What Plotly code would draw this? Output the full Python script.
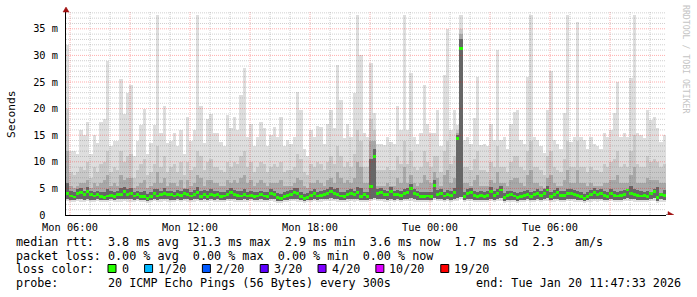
import numpy as np
import pandas as pd
import plotly.graph_objects as go

# ---------------- data (ms) ----------------
START = "2026-01-19 05:48:00"
END = "2026-01-20 11:48:00"
STEP_MIN = 10

max_rtt = [
    32, 12, 12, 11.5, 16, 15, 17.5, 11.5, 15, 13.5,
    17.5, 18, 29, 13, 14, 14, 25.5, 19, 23, 24.5,
    11, 14, 17, 20, 11.5, 13.5, 17, 37.6, 15.5, 20.5,
    13.5, 14, 15.5, 13, 16, 11.5, 18.5, 14, 16, 37.6,
    20.5, 13.5, 18, 19, 15.5, 15.4, 13.8, 13, 18.8, 16.3,
    18.5, 16, 22.5, 27.6, 14.7, 17.2, 13, 14.7, 17.5, 16.3,
    13, 15, 16.5, 14.7, 18.5, 13, 14.1, 13.4, 14.7, 23.2,
    19.7, 12.4, 11, 16, 14.7, 16.8, 16.5, 13.4, 17.2, 19.7,
    16.3, 28.2, 21.6, 14.4, 17.2, 14.7, 22.9, 37.6, 30, 15.4,
    14.7, 28.5, 19.1, 13.4, 13.4, 13.2, 14.7, 13.8, 13.4, 20.4,
    16, 37.6, 16, 26.7, 14.7, 13.4, 15.4, 24.4, 17.2, 15.4,
    15.4, 19.7, 13, 26.4, 35, 16, 19.7, 17, 37.6, 14.1,
    14.7, 13.4, 18.2, 26, 13.2, 13.4, 13, 17.2, 14.1, 31,
    14.1, 14.7, 12.4, 17.2, 19.4, 19.7, 14.1, 13.4, 26, 37.6,
    14.7, 14.1, 13, 11.6, 19.7, 27.1, 14.1, 13.4, 12.4, 19.1,
    37.6, 13.8, 14.7, 36.3, 14.7, 14.1, 12.4, 14.7, 13.4, 13,
    12.4, 15.4, 14.7, 16, 19.1, 25, 14.7, 15.4, 14.7, 25.7,
    37.6, 15.4, 15, 14.4, 19.7, 17.8, 18.5, 16.3, 13.8, 15,
]

q90_rtt = [
    20, 8, 7.5, 8, 9, 8.5, 10, 7, 9, 8,
    9.5, 10, 12, 8, 9, 8.5, 12, 10, 11, 11.5,
    7, 8.5, 9.5, 10.5, 7.5, 8, 9.5, 13, 9, 11,
    8, 9, 9.5, 8, 10, 7.5, 10, 8.5, 9, 12,
    11, 8.5, 10, 10.5, 9, 9, 8.5, 8, 10, 9,
    10, 9.5, 11, 12, 9, 10, 8, 9, 10, 9.5,
    8, 9, 9.5, 9, 10, 8, 8.5, 8.5, 9, 11.5,
    10.5, 8, 7.5, 9.5, 9, 10, 9.5, 8.5, 10, 11,
    9.5, 13, 11, 9, 10, 9, 11.5, 16, 14, 9,
    9, 18, 16, 8.5, 8.5, 8.5, 9, 8.5, 8.5, 11,
    9.5, 14, 9.5, 12, 9, 8.5, 9, 12, 10, 9,
    11, 11, 8, 12, 14, 9.5, 11, 16, 35, 9,
    9, 8.5, 10.5, 12, 8.5, 8.5, 8, 10, 9, 13,
    9, 9, 8, 10, 11, 11, 9, 8.5, 12, 14,
    9, 9, 8.5, 7.5, 11, 12, 9, 8.5, 8, 10.5,
    14, 9, 9, 14, 9, 9, 8, 9, 8.5, 8.5,
    8, 9.5, 9, 10, 10.5, 12, 9, 9.5, 9, 12,
    15, 9.5, 9, 9, 11, 10, 10.5, 10, 9, 9.5,
]

q75_rtt = [
    12, 5.5, 5, 5.5, 6, 6, 6.5, 5, 6, 5.5,
    6, 6.5, 7.5, 5.5, 6, 5.5, 7.5, 6.5, 7, 7,
    5, 5.5, 6, 6.5, 5, 5.5, 6, 8, 6, 7,
    5.5, 6, 6, 5.5, 6.5, 5, 6.5, 5.5, 6, 7.5,
    7, 5.5, 6.5, 6.5, 6, 6, 5.5, 5.5, 6.5, 6,
    6.5, 6, 7, 7.5, 6, 6.5, 5.5, 6, 6.5, 6,
    5.5, 6, 6, 6, 6.5, 5.5, 5.5, 5.5, 6, 7,
    6.5, 5.5, 5, 6, 6, 6.5, 6, 5.5, 6.5, 7,
    6, 8, 7, 6, 6.5, 6, 7, 10, 9, 6,
    6, 14, 14, 5.5, 5.5, 5.5, 6, 5.5, 5.5, 7,
    6, 9, 6, 7.5, 6, 5.5, 6, 7.5, 6.5, 6,
    8, 7, 5.5, 7.5, 8.5, 6, 7, 15.5, 34, 6,
    6, 5.5, 6.5, 7.5, 5.5, 5.5, 5.5, 6.5, 6, 8,
    6, 6, 5.5, 6.5, 7, 7, 6, 5.5, 7.5, 8.5,
    6, 6, 5.5, 5, 7, 7.5, 6, 5.5, 5.5, 6.5,
    8.5, 6, 6, 8.5, 6, 6, 5.5, 6, 5.5, 5.5,
    5.5, 6, 6, 6.5, 6.5, 7.5, 6, 6, 6, 7.5,
    9, 6, 6, 6, 7, 6.5, 6.5, 6.5, 6, 6,
]

q60_rtt = [
    6, 4.6, 4.3, 4.8, 5, 4.6, 5.2, 4.5, 4.4, 4.6,
    4.4, 4.3, 4.8, 4.5, 4.4, 4.6, 5, 5.2, 4.8, 5,
    4.3, 4.6, 4.4, 4.5, 4, 4.3, 4.9, 4.8, 4.6, 5,
    4.6, 4.6, 4.4, 4.7, 4.5, 4.9, 4.8, 4.4, 4.7, 5.2,
    4.6, 4.7, 4.5, 4.8, 4.5, 4.6, 4.3, 4.4, 4.7, 5,
    4.7, 4.5, 4.5, 4.8, 4.4, 4.5, 4.3, 4.4, 4.6, 4.4,
    4.3, 4.9, 4.6, 4.1, 4, 4.3, 4.5, 4.7, 5, 5,
    4.4, 4, 4.1, 4.5, 4.8, 4.4, 4.5, 4.7, 4.9, 5.2,
    4.9, 5, 4.4, 4.3, 4.7, 4.9, 4.6, 5.2, 5, 4.4,
    4.3, 10.5, 12.5, 4.9, 5, 4.7, 4.6, 5.2, 4.6, 4.7,
    4.5, 4.9, 5, 5.8, 4.8, 4.6, 4.3, 4.4, 4.4, 4.3,
    6.5, 4.7, 4.8, 4.4, 4.7, 4.5, 5, 15, 33, 4.3,
    4.8, 5, 4.5, 4.3, 4.5, 4.3, 4.5, 5.2, 4.5, 4.8,
    5.5, 4.1, 4.5, 4.6, 4.4, 4.1, 4.3, 4.5, 4.7, 4.3,
    4.6, 4.8, 4.5, 4.8, 5.5, 4.3, 4.7, 5, 4.5, 4.5,
    4.8, 4.9, 4.7, 4.5, 4.3, 3.9, 4.3, 4.7, 5, 4.7,
    4.9, 4.5, 4.3, 4.9, 4.5, 4.4, 4.5, 4.7, 4.9, 5.5,
    4.8, 4.7, 4.5, 4.4, 4.5, 4.3, 4.9, 5.2, 4.1, 4.7,
]

median_rtt = [
    4.1, 3.6, 3.4, 4.1, 4.2, 3.8, 4.4, 3.8, 3.6, 3.8,
    3.5, 3.3, 3.6, 3.7, 3.5, 3.8, 3.9, 4.4, 3.9, 4.0,
    3.6, 3.8, 3.5, 3.5, 3.1, 3.5, 4.0, 3.6, 3.8, 4.1,
    3.9, 3.8, 3.6, 3.9, 3.7, 4.1, 3.8, 3.6, 3.9, 4.2,
    3.5, 3.9, 3.5, 3.9, 3.7, 3.8, 3.5, 3.6, 3.9, 4.2,
    3.9, 3.7, 3.6, 3.8, 3.6, 3.7, 3.5, 3.6, 3.8, 3.6,
    3.5, 4.1, 3.8, 3.3, 3.1, 3.5, 3.7, 3.9, 4.2, 4.0,
    3.5, 3.1, 3.3, 3.7, 4.0, 3.6, 3.7, 3.9, 4.1, 4.4,
    4.1, 3.9, 3.6, 3.5, 3.9, 4.1, 3.8, 4.2, 3.5, 3.8,
    3.5, 5.3, 11.0, 4.1, 4.2, 3.9, 3.8, 4.4, 3.8, 3.9,
    3.7, 4.0, 4.2, 5.0, 4.0, 3.8, 3.5, 3.5, 3.6, 3.5,
    5.6, 3.9, 4.0, 3.6, 3.9, 3.7, 4.2, 14.4, 31.3, 3.5,
    4.0, 4.2, 3.7, 3.5, 3.7, 3.5, 3.7, 4.4, 3.7, 4.0,
    4.7, 3.3, 3.7, 3.8, 3.6, 3.3, 3.5, 3.7, 3.9, 3.5,
    3.8, 4.0, 3.7, 4.0, 4.7, 3.5, 3.9, 4.2, 3.7, 3.7,
    4.0, 4.1, 3.9, 3.7, 3.5, 3.1, 3.5, 3.9, 4.2, 3.9,
    4.1, 3.7, 3.5, 4.1, 3.7, 3.6, 3.7, 3.9, 4.7, 4.0,
    3.9, 3.7, 3.6, 3.7, 3.5, 4.1, 4.4, 3.3, 3.9, 3.7,
]

low_rtt = [
    3.0, 2.9, 2.8, 3.0, 3.0, 2.9, 3.1, 2.9, 2.9, 3.0,
    2.9, 2.8, 2.9, 3.0, 2.9, 3.0, 3.0, 3.1, 3.0, 3.0,
    2.9, 3.0, 2.8, 2.9, 2.7, 2.9, 3.0, 2.9, 3.0, 3.1,
    3.0, 2.9, 2.9, 3.0, 2.9, 3.1, 3.0, 2.8, 3.0, 3.1,
    2.8, 3.0, 2.9, 3.0, 2.9, 3.0, 2.8, 2.9, 3.0, 3.1,
    3.0, 2.9, 2.9, 3.0, 2.9, 3.0, 2.8, 2.9, 3.0, 2.9,
    2.8, 3.1, 3.0, 2.7, 2.7, 2.8, 2.9, 3.0, 3.1, 3.0,
    2.8, 2.7, 2.8, 2.9, 3.0, 2.9, 3.0, 3.0, 3.1, 3.2,
    3.1, 3.0, 2.9, 2.8, 3.0, 3.1, 3.0, 3.1, 2.8, 2.9,
    2.9, 3.0, 3.2, 3.0, 3.1, 3.0, 2.9, 3.1, 2.9, 3.0,
    2.9, 3.0, 3.1, 3.2, 3.0, 2.9, 2.8, 2.8, 2.9, 2.8,
    3.2, 3.0, 3.0, 2.9, 3.0, 2.9, 3.1, 3.2, 3.4, 2.8,
    3.0, 3.1, 2.9, 2.8, 2.9, 2.8, 2.9, 3.1, 2.9, 3.0,
    3.2, 2.7, 2.9, 2.9, 2.8, 2.7, 2.8, 2.9, 3.0, 2.8,
    2.9, 3.0, 2.9, 3.0, 3.2, 2.8, 3.0, 3.1, 2.9, 2.9,
    3.0, 3.1, 3.0, 2.9, 2.8, 2.7, 2.8, 3.0, 3.1, 3.0,
    3.1, 2.9, 2.8, 3.1, 2.9, 2.8, 2.9, 3.0, 3.2, 3.0,
    3.0, 2.9, 2.8, 2.9, 2.8, 3.0, 3.2, 2.7, 3.0, 2.9,
]

min_rtt = [
    2.6, 2.5, 2.5, 2.6, 2.4, 2.5, 2.6, 2.5, 2.5, 2.6,
    2.5, 2.4, 2.5, 2.6, 2.5, 2.5, 2.4, 2.6, 2.5, 2.5,
    2.5, 2.6, 2.4, 2.5, 2.3, 2.5, 2.6, 2.5, 2.5, 2.6,
    2.5, 2.5, 2.4, 2.6, 2.5, 2.6, 2.5, 2.4, 2.5, 2.6,
    2.4, 2.5, 2.5, 2.6, 2.5, 2.5, 2.4, 2.5, 2.6, 2.6,
    2.5, 2.5, 2.4, 2.5, 2.5, 2.6, 2.4, 2.5, 2.5, 2.4,
    2.4, 2.6, 2.5, 2.3, 2.3, 2.4, 2.5, 2.6, 2.6, 2.5,
    2.4, 2.3, 2.4, 2.5, 2.6, 2.5, 2.5, 2.6, 2.6, 2.7,
    2.6, 2.5, 2.5, 2.4, 2.5, 2.6, 2.5, 2.6, 2.4, 2.5,
    2.5, 2.6, 2.8, 2.6, 2.6, 2.5, 2.5, 2.6, 2.5, 2.6,
    2.5, 2.6, 2.6, 2.7, 2.5, 2.5, 2.4, 2.4, 2.5, 2.4,
    2.8, 2.6, 2.6, 2.5, 2.6, 2.5, 2.6, 2.7, 3.0, 2.4,
    2.6, 2.6, 2.5, 2.4, 2.5, 2.4, 2.5, 2.6, 2.5, 2.6,
    2.7, 2.3, 2.5, 2.5, 2.4, 2.3, 2.4, 2.5, 2.6, 2.4,
    2.5, 2.6, 2.5, 2.6, 2.7, 2.4, 2.5, 2.6, 2.5, 2.5,
    2.6, 2.6, 2.5, 2.5, 2.4, 2.3, 2.4, 2.5, 2.6, 2.5,
    2.6, 2.5, 2.4, 2.6, 2.5, 2.4, 2.5, 2.6, 2.7, 2.6,
    2.5, 2.5, 2.4, 2.5, 2.4, 2.6, 2.7, 2.3, 2.5, 2.5,
]

y_tick_vals = [0, 5, 10, 15, 20, 25, 30, 35]
y_tick_text = ["0\u00a0\u00a0", "5 m", "10 m", "15 m", "20 m", "25 m", "30 m", "35 m"]
x_tick_vals = ["2026-01-19 06:00", "2026-01-19 12:00", "2026-01-19 18:00",
               "2026-01-20 00:00", "2026-01-20 06:00"]
x_tick_text = ["Mon 06:00", "Mon 12:00", "Mon 18:00", "Tue 00:00", "Tue 06:00"]

loss_labels = ["0", "1/20", "2/20", "3/20", "4/20", "10/20", "19/20"]
loss_colors = ["#26ff00", "#00b8ff", "#0059ff", "#5e00ff", "#7e00ff", "#dd00ff", "#ff0000"]

line_rtt = "median rtt:  3.8 ms avg  31.3 ms max  2.9 ms min  3.6 ms now  1.7 ms sd  2.3   am/s"
line_loss = "packet loss: 0.00 % avg  0.00 % max  0.00 % min  0.00 % now"
line_color = "loss color:"
line_probe = "probe:       20 ICMP Echo Pings (56 Bytes) every 300s"
line_end = "end: Tue Jan 20 11:47:33 2026"

for arr in (max_rtt, q90_rtt, q75_rtt, q60_rtt, median_rtt, low_rtt, min_rtt):
    assert len(arr) == 180, len(arr)

# ---------------- geometry ----------------
W, H = 697, 297
ML, MR, MT, MB = 66, 31, 12, 82
PW, PH = W - ML - MR, H - MT - MB
YMAX = 38.16
MONO = "DejaVu Sans Mono"
LEG_FS = 11.76
CHAR_W = 7.08


def px(xp):
    return (xp - ML) / PW


def py(yp):
    return (H - MB - yp) / PH


n = len(median_rtt)
times = pd.Timestamp(START) + pd.to_timedelta(np.arange(n) * STEP_MIN + STEP_MIN / 2, unit="min")
bar_w = STEP_MIN * 60 * 1000

fig = go.Figure()


def band(lo, hi, color):
    fig.add_trace(go.Bar(
        x=times, y=[h - l for h, l in zip(hi, lo)], base=lo, width=bar_w,
        marker=dict(color=color, line=dict(width=0)),
        hoverinfo="skip", showlegend=False))


band(min_rtt, max_rtt, "#dedede")
band(low_rtt, q90_rtt, "#c8c8c8")
band(low_rtt, q75_rtt, "#a8a8a8")
band(low_rtt, q60_rtt, "#666666")

MED_H = 0.5
fig.add_trace(go.Bar(
    x=times, y=[MED_H] * n, base=[m - MED_H / 2 for m in median_rtt], width=bar_w,
    marker=dict(color=loss_colors[0], line=dict(width=0)),
    hoverinfo="skip", showlegend=False))

shapes = []
MINOR = "rgba(110,110,110,0.32)"
MAJOR = "rgba(255,0,0,0.32)"
for h in pd.date_range("2026-01-19 06:00", "2026-01-20 11:00", freq="h"):
    shapes.append(dict(type="line", xref="x", yref="paper", x0=h, x1=h, y0=0, y1=1,
                       layer="above",
                       line=dict(color=MAJOR if h.hour % 3 == 0 else MINOR, width=1, dash="1px,1px")))
for v in range(1, int(YMAX) + 1):
    shapes.append(dict(type="line", xref="paper", yref="y", x0=0, x1=1, y0=v, y1=v,
                       layer="above",
                       line=dict(color=MAJOR if v % 5 == 0 else MINOR, width=1, dash="1px,1px")))

ARROW = "#a01010"
# x axis extension + arrow
shapes.append(dict(type="line", xref="paper", yref="y", xsizemode="pixel", xanchor=1,
                   x0=0, x1=2, y0=0, y1=0, line=dict(color="#000", width=1), layer="above"))
shapes.append(dict(type="path", xref="paper", yref="y", xsizemode="pixel", xanchor=1,
                   ysizemode="pixel", yanchor=0, path="M 2,-3.5 L 8,0 L 2,3.5 Z",
                   fillcolor=ARROW, line=dict(color=ARROW, width=0.5), layer="above"))
# y axis arrow
shapes.append(dict(type="path", xref="paper", yref="paper", xsizemode="pixel", xanchor=0,
                   ysizemode="pixel", yanchor=1, path="M -3,0 L 3,0 L 0,5 Z",
                   fillcolor=ARROW, line=dict(color=ARROW, width=0.5), layer="above"))

annotations = []


def text(xp, yp, s, size=LEG_FS, anchor="left", color="#000", angle=0):
    annotations.append(dict(xref="paper", yref="paper", x=px(xp), y=py(yp), text=s.replace(" ", "\u00a0"),
                            showarrow=False, xanchor=anchor, yanchor="middle", textangle=angle,
                            font=dict(family=MONO, size=size, color=color), borderpad=0))


text(15, 241.5, line_rtt)
text(15, 255.5, line_loss)
text(15, 269, line_color)
text(15, 283, line_probe)
text(682, 283, line_end, anchor="right")
text(11, 114, "Seconds", size=11.3, anchor="center", angle=-90)
text(686, 59, "RRDTOOL / TOBI OETIKER", size=8.2, anchor="center", color="#c4c4c4", angle=90)

bx = 108.0
for lab, col in zip(loss_labels, loss_colors):
    shapes.append(dict(type="rect", xref="paper", yref="paper",
                       x0=px(bx), x1=px(bx + 8), y0=py(272.5), y1=py(264.5),
                       fillcolor=col, line=dict(color="#000", width=1), layer="above"))
    tx = bx + 13.5
    text(tx - 1, 269, lab)
    bx = tx + len(lab) * CHAR_W + 16

fig.update_layout(
    width=W, height=H, margin=dict(l=ML, r=MR, t=MT, b=MB),
    paper_bgcolor="#ffffff", plot_bgcolor="#ffffff",
    barmode="overlay", bargap=0, showlegend=False,
    shapes=shapes, annotations=annotations,
    xaxis=dict(type="date", range=[START, END], tickvals=x_tick_vals, ticktext=x_tick_text,
               showgrid=False, zeroline=False, showline=True, linecolor="#000", linewidth=1,
               ticks="", ticklabelstandoff=3,
               tickfont=dict(family=MONO, size=10.3, color="#000")),
    yaxis=dict(range=[0, YMAX], tickvals=y_tick_vals, ticktext=y_tick_text,
               showgrid=False, zeroline=False, showline=True, linecolor="#000", linewidth=1,
               ticks="", ticklabelstandoff=5,
               tickfont=dict(family=MONO, size=10.3, color="#000")),
)

fig.write_html("out.html")
